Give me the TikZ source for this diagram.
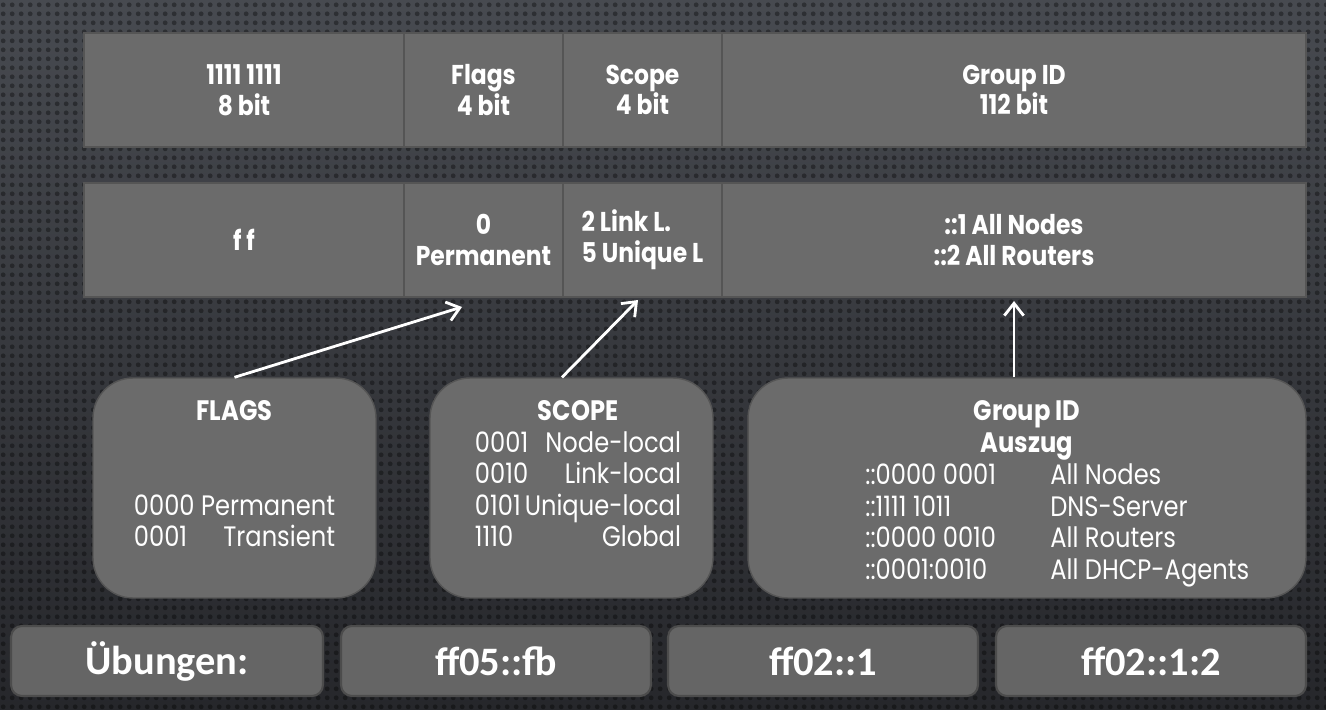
\documentclass[tikz,border=0pt]{standalone}
\usepackage{fontspec}
\setmainfont{Poppins}[FakeStretch=0.86]
\newfontfamily\calfont{Carlito}
\usetikzlibrary{arrows.meta,patterns.meta}
\definecolor{bgtop}{HTML}{474A50}
\definecolor{bgbot}{HTML}{26272B}
\definecolor{cellfill}{HTML}{6B6B6B}
\definecolor{celldraw}{HTML}{555555}
\tikzset{>={Straight Barb[length=7pt,width=11pt]}}
\tikzdeclarepattern{name=bgdots,type=uncolored,
    bounding box={(0pt,0pt) and (5.2pt,5.2pt)},tile size={(5.2pt,5.2pt)},
    code={\fill (2.6pt,2.6pt) circle (1.5pt);}}
\tikzset{cell/.style={draw=celldraw,line width=1.2pt,fill=cellfill,inner sep=0pt,
    minimum height=2.28cm,text=white,align=center,
    font=\bfseries\fontsize{15.5}{17.5}\selectfont}}
\tikzset{infobox/.style={draw=celldraw,line width=0.8pt,fill=cellfill,
    rounded corners=0.8cm,minimum height=4.4cm}}
\tikzset{infotext/.style={inner sep=0pt,text=white,
    font=\fontsize{16}{18}\selectfont}}
\tikzset{exbox/.style={draw=black!70,line width=1.2pt,fill=cellfill!104,
    rounded corners=0.22cm,minimum width=6.2cm,minimum height=1.4cm,text=white,
    font=\calfont\bfseries\fontsize{23}{27}\selectfont}}
\tikzset{arrow/.style={->,white,line width=1.6pt}}

\begin{document}
\begin{tikzpicture}[x=0.02cm,y=-0.02cm]
    \shade[top color=bgtop,bottom color=bgbot] (0,0) rectangle (1326,710);
    \fill[pattern=bgdots,pattern color=black,opacity=0.35] (0,0) rectangle (1326,710);

    % address layout
    \node[cell,minimum width=6.4cm] (prefix) at (244,90) {1111 1111\\8 bit};
    \node[cell,minimum width=3.18cm] (flags) at (483.5,90) {Flags\\4 bit};
    \node[cell,minimum width=3.18cm] (scope) at (642.5,90) {Scope\\4 bit};
    \node[cell,minimum width=11.68cm] (group) at (1014,90) {Group ID\\112 bit};

    \node[cell,minimum width=6.4cm] (prefixval) at (244,240) {f f};
    \node[cell,minimum width=3.18cm] (flagsval) at (483.5,240) {0\\Permanent};
    \node[cell,minimum width=3.18cm,align=left] (scopeval) at (642.5,240) {2 Link L.\\5 Unique L};
    \node[cell,minimum width=11.68cm] (groupval) at (1014,240) {::1 All Nodes\\::2 All Routers};

    % explanations
    \node[infobox,minimum width=5.66cm] (flagsbox) at (234.5,488) {};
    \node[infobox,minimum width=5.66cm] (scopebox) at (571.5,488) {};
    \node[infobox,minimum width=11.16cm] (groupbox) at (1027,488) {};

    \node[infotext,anchor=north] (flagstxt) at (234.5,398) {%
        \begin{tabular}{@{}l@{\ }r@{}}
            \multicolumn{2}{c}{\bfseries FLAGS}\\
            \\
            \\
            0000 & Permanent\\
            0001 & Transient
        \end{tabular}};
    \node[infotext,anchor=north] (scopetxt) at (578,398) {%
        \begin{tabular}{@{}l@{}r@{}}
            \multicolumn{2}{c}{\bfseries SCOPE}\\
            0001 & Node-local\\
            0010 & Link-local\\
            0101 & \hspace{-2pt}Unique-local\\
            1110 & Global
        \end{tabular}};
    \node[infotext,anchor=north] (grouphead) at (1027,398) {%
        \begin{tabular}{@{}c@{}}
            \bfseries Group ID\\
            \bfseries Auszug
        \end{tabular}};
    \node[infotext,anchor=north west] (grouplist) at (865,462) {%
        \begin{tabular}{@{}p{3.7cm}@{}l@{}}
            ::0000 0001 & All Nodes\\
            ::1111 1011 & DNS-Server\\
            ::0000 0010 & All Routers\\
            ::0001:0010 & All DHCP-Agents
        \end{tabular}};

    \coordinate (flagstip) at (462,307);
    \coordinate (scopetip) at (638,300);
    \draw[arrow] (flagsbox.north) -- (flagstip);
    \draw[arrow] ([xshift=-0.19cm]scopebox.north) -- (scopetip);
    \draw[arrow,shorten >=0.06cm] (groupbox.north -| groupval.south) -- (groupval.south);

    % exercises
    \node[exbox,minimum width=6.24cm] (ex0) at (167,661) {Übungen:};
    \node[exbox] (ex1) at (496,661) {ff05::fb};
    \node[exbox] (ex2) at (823,661) {ff02::1};
    \node[exbox] (ex3) at (1151,661) {ff02::1:2};
\end{tikzpicture}
\end{document}
